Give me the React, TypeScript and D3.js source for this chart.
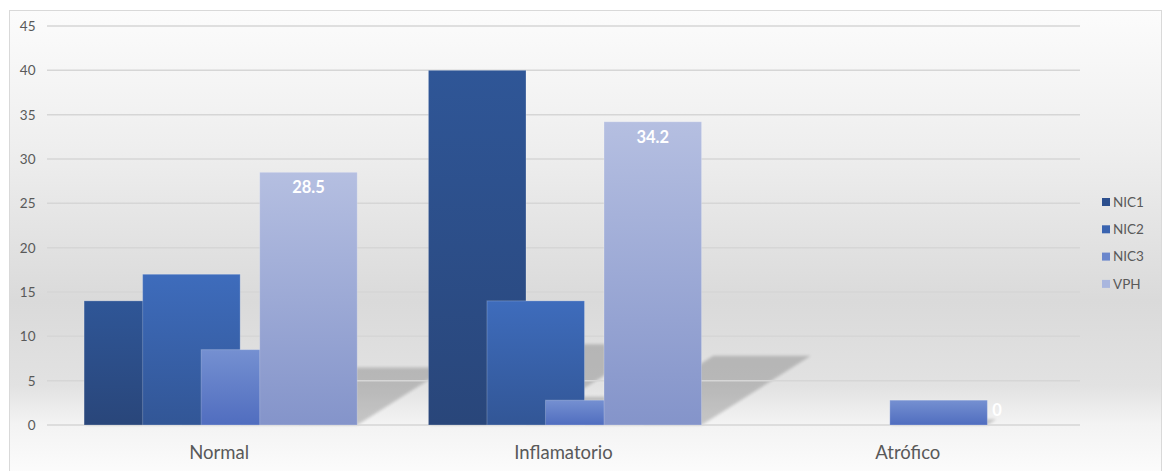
import React from "react";
import * as d3 from "d3";

const categories = ["Normal", "Inflamatorio", "Atrófico"];
const seriesNames = ["NIC1", "NIC2", "NIC3", "VPH"];
const nic1 = [14, 40, 0];
const nic2 = [17, 14, 0];
const nic3 = [8.5, 2.8, 2.8];
const vph = [28.5, 34.2, 0];
const yTicks = [0, 5, 10, 15, 20, 25, 30, 35, 40, 45];
const labeledSeries = "VPH";

const seriesValues = [nic1, nic2, nic3, vph];

const W = 1165;
const H = 471;
const plot = { left: 47, right: 1080, top: 26, bottom: 425 };
const bandShift = 1.5;

const barTop = ["#2f5697", "#3e6cbc", "#7590d1", "#b5bfe1"];
const barBottom = ["#29467a", "#325696", "#506dbf", "#8494ca"];
const legendColors = ["#2c4f8e", "#3a64b0", "#6a86cc", "#a9b6de"];

const FONT = "Lato, 'Open Sans', sans-serif";

export default function App() {
  const x = d3
    .scaleBand<string>()
    .domain(categories)
    .range([plot.left + bandShift, plot.right + bandShift])
    .paddingInner(0)
    .paddingOuter(0);
  const y = d3.scaleLinear().domain([0, 45]).range([plot.bottom, plot.top]);

  const overlap = 0.4;
  const gap = 0.73;
  const nS = seriesNames.length;
  const groupFactor = 1 + (nS - 1) * (1 - overlap);
  const bw = x.bandwidth() / (groupFactor + gap);
  const step = bw * (1 - overlap);
  const groupW = bw * groupFactor;

  const bars = seriesNames.flatMap((s, si) =>
    categories.map((c, ci) => {
      const v = seriesValues[si][ci];
      const x0 = (x(c) as number) + (x.bandwidth() - groupW) / 2 + si * step;
      return { s, si, c, ci, v, x0 };
    })
  );

  const shadowK = 0.228;
  const shadowSlope = 1.58;

  return (
    <svg width={W} height={H} style={{ position: "absolute", left: 0, top: 0 }} xmlns="http://www.w3.org/2000/svg">
      <defs>
        <linearGradient id="bg" gradientUnits="userSpaceOnUse" x1="0" y1="10" x2="0" y2="480">
          <stop offset="0" stopColor="#fcfcfc" />
          <stop offset="0.3" stopColor="#eeeeee" />
          <stop offset="0.62" stopColor="#dadada" />
          <stop offset="0.8" stopColor="#e2e2e2" />
          <stop offset="0.88" stopColor="#f3f3f3" />
          <stop offset="1" stopColor="#fdfdfd" />
        </linearGradient>
        {seriesNames.map((s, i) => (
          <linearGradient key={s} id={`g${i}`} x1="0" y1="0" x2="0" y2="1">
            <stop offset="0" stopColor={barTop[i]} />
            <stop offset="1" stopColor={barBottom[i]} />
          </linearGradient>
        ))}
        <filter id="blur" x="-20%" y="-20%" width="140%" height="140%">
          <feGaussianBlur stdDeviation="1.8" />
        </filter>
      </defs>
      <rect x={0} y={0} width={W} height={H} fill="#ffffff" />
      <rect x={9.5} y={10.5} width={1152} height={475} fill="url(#bg)" stroke="#d9d9d9" strokeWidth={1} />

      {/* shadows */}
      <g opacity={0.18} filter="url(#blur)">
        {bars.filter((b) => b.v > 0).map((b) => {
          const h = y(0) - y(b.v);
          const sh = h * shadowK;
          const dx = sh * shadowSlope;
          const b0 = y(0);
          const pts = [
            [b.x0, b0],
            [b.x0 + bw, b0],
            [b.x0 + bw + dx, b0 - sh],
            [b.x0 + dx, b0 - sh],
          ];
          return <polygon key={`sh-${b.s}-${b.c}`} points={pts.map((p) => p.join(",")).join(" ")} fill="#000" />;
        })}
      </g>

      {/* gridlines */}
      {yTicks.map((t) => (
        <line key={`gl-${t}`} x1={plot.left} x2={plot.right} y1={y(t)} y2={y(t)} stroke="#d6d6d6" strokeWidth={1.5} />
      ))}

      {/* y tick labels */}
      {yTicks.map((t) => (
        <text key={`yt-${t}`} x={35.5} y={y(t)} dy="0.36em" textAnchor="end" fontFamily={FONT} fontSize={13.5} fill="#595959">
          {t}
        </text>
      ))}

      {/* bars */}
      {bars.filter((b) => b.v > 0).map((b) => (
        <rect
          key={`bar-${b.s}-${b.c}`}
          x={b.x0}
          y={y(b.v)}
          width={bw}
          height={y(0) - y(b.v)}
          fill={`url(#g${b.si})`}
          stroke="rgba(255,255,255,0.22)"
          strokeWidth={1}
        />
      ))}

      {/* data labels */}
      {bars.filter((b) => b.s === labeledSeries).map((b) => {
        const top = y(b.v);
        const ly = b.v > 0 ? top + 15 : y(0) - 15;
        return (
          <text key={`dl-${b.c}`} x={b.x0 + bw / 2} y={ly} dy="0.36em" textAnchor="middle" fontFamily={FONT} fontSize={16.5} fontWeight={700} fill="#ffffff">
            {b.v}
          </text>
        );
      })}

      {/* category labels */}
      {categories.map((c) => (
        <text key={`cl-${c}`} x={(x(c) as number) + x.bandwidth() / 2 - bandShift} y={452} dy="0.36em" textAnchor="middle" fontFamily={FONT} fontSize={18.5} fill="#595959">
          {c}
        </text>
      ))}

      {/* legend */}
      {seriesNames.map((s, i) => (
        <g key={`lg-${s}`} transform={`translate(1102, ${202 + i * 27.3})`}>
          <rect x={0} y={-4} width={8} height={8} fill={legendColors[i]} />
          <text x={11} y={0} dy="0.36em" fontFamily={FONT} fontSize={13.5} fill="#595959">
            {s}
          </text>
        </g>
      ))}
    </svg>
  );
}
